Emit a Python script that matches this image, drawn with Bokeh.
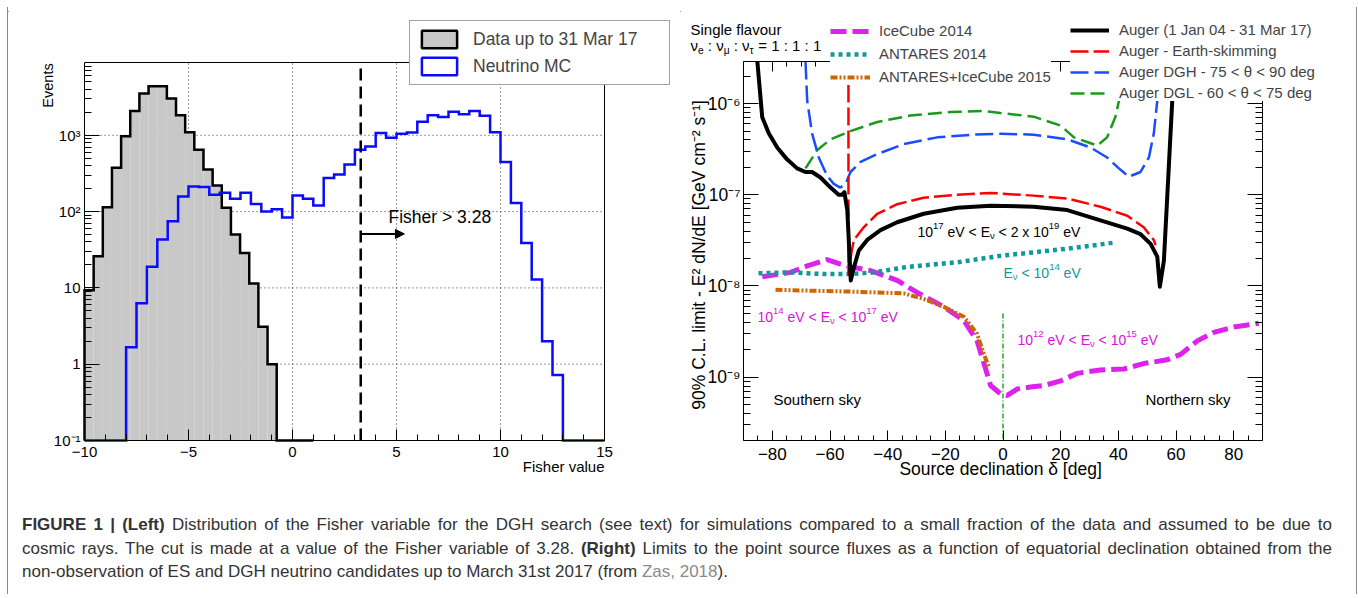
import numpy as np
from bokeh.plotting import figure
from bokeh.models import (Label, Legend, LegendItem, LinearAxis, LogAxis, FixedTicker,
                          CustomJSTickFormatter, Arrow, NormalHead, Div, Spacer)
from bokeh.layouts import row, column
from bokeh.embed import file_html
from bokeh.resources import INLINE

FONT = "Liberation Sans"

# ---------------- left panel data (Fisher distribution) ----------------
DATA_EDGE0 = -10.0
DATA_BINW = 0.44
DATA_COUNTS = [9.3, 26, 114, 376, 970, 2090, 3530, 4400, 4400, 3040, 1830, 1100, 647,
               357, 220, 112, 50, 28.6, 11.4, 3.1, 1.0, 0, 0, 0, 0]
MC_EDGE0 = -10.0
MC_BINW = 0.5
MC_COUNTS = [0, 0, 0, 0, 1.67, 6.3, 19, 43, 75, 158, 213, 210, 166, 176, 147, 176, 126,
             100, 107, 84, 162, 147, 120, 275, 307, 415, 647, 716, 1070, 930, 1050, 1090,
             1500, 1830, 1740, 2030, 1890, 2090, 1810, 1100, 446, 130, 38.7, 12.9, 2.0,
             0.72, 0, 0, 0, 0]
FISHER_CUT = 3.28
ARROW_LEN = 2.1
ARROW_Y = 51
LEFT_X_RANGE = (-10, 15)
LEFT_Y_RANGE = (0.1, 9000)
LEFT_XTICKS = [-10, -5, 0, 5, 10, 15]
LEFT_YTICKS = [0.1, 1, 10, 100, 1000]

# ---------------- right panel data (flux limits vs declination) ----------------
AUGER_X = [-85.2, -83.5, -81.2, -78.3, -74.9, -71.4, -68.5, -66.2, -63.3, -59.8, -57.0, -55.8,
           -55.0, -54.0, -52.8, -51.7, -50.0, -47.1, -42.5, -36.7, -27.5, -15.9, -4.3, 10.6,
           22.3, 33.8, 43.1, 47.7, 51.2, 53.5, 54.4, 55.8, 56.9, 58.1, 58.7, 59.1]
AUGER_Y = [2.9e-6, 7.1e-7, 4.7e-7, 3.3e-7, 2.45e-7, 1.95e-7, 1.78e-7, 1.78e-7, 1.55e-7, 1.2e-7,
           1.0e-7, 1.0e-7, 1.07e-7, 6.8e-8, 1.15e-8, 1.6e-8, 2.45e-8, 3.2e-8, 4.1e-8, 5.0e-8,
           6.2e-8, 7.2e-8, 7.6e-8, 7.4e-8, 6.8e-8, 5.25e-8, 4.25e-8, 3.7e-8, 2.9e-8, 2.1e-8,
           9.8e-9, 1.9e-8, 8.7e-8, 4.7e-7, 1.07e-6, 2.9e-6]
ES_X = [-53.6, -53.6, -52.6, -51.7, -48.3, -43.6, -36.7, -27.5, -15.9, -4.3, 10.6, 22.3,
        33.8, 43.1, 48.8, 52.3, 52.9]
ES_Y = [2.9e-6, 1.3e-8, 2.3e-8, 3.2e-8, 4.4e-8, 6.2e-8, 7.9e-8, 9.3e-8, 1.0e-7, 1.05e-7,
        9.8e-8, 9.1e-8, 7.4e-8, 5.9e-8, 4.4e-8, 3.2e-8, 2.8e-8]
DGH_X = [-68.5, -67.9, -66.2, -63.9, -61.0, -58.7, -56.4, -54.6, -52.9, -49.4, -43.6, -34.4,
         -22.8, -10.1, -0.9, 10.6, 22.3, 30.4, 36.1, 40.2, 43.6, 47.7, 50.6, 52.3, 53.5, 54.2]
DGH_Y = [2.9e-6, 1.07e-6, 4.7e-7, 2.57e-7, 1.62e-7, 1.32e-7, 1.2e-7, 1.32e-7, 1.78e-7, 2.3e-7,
         2.8e-7, 3.6e-7, 4.27e-7, 4.57e-7, 4.68e-7, 4.57e-7, 4.07e-7, 3.3e-7, 2.57e-7, 1.95e-7,
         1.58e-7, 1.78e-7, 2.57e-7, 4.7e-7, 1.07e-6, 2.9e-6]
DGL_X = [-68.5, -64.4, -59.8, -52.9, -43.6, -32.1, -18.2, -6.7, -0.9, 10.6, 20.0, 24.6, 29.2,
         32.7, 36.1, 39.0, 40.2, 40.8]
DGL_Y = [1.95e-7, 3.1e-7, 4.07e-7, 5.0e-7, 6.3e-7, 7.4e-7, 8.1e-7, 8.3e-7, 7.9e-7, 7.2e-7,
         5.75e-7, 4.27e-7, 3.8e-7, 3.47e-7, 4.27e-7, 7.2e-7, 1.07e-6, 2.9e-6]
ANT_X = [-84.8, -73.7, -62.2, -54.0, -44.8, -33.2, -15.9, -0.9, 10.6, 22.3, 39.0]
ANT_Y = [1.38e-8, 1.41e-8, 1.35e-8, 1.35e-8, 1.41e-8, 1.62e-8, 1.82e-8, 2.14e-8, 2.34e-8,
         2.57e-8, 3.0e-8]
IC_X = [-83.5, -73.7, -67.9, -61.0, -56.4, -52.9, -46.0, -36.7, -29.8, -20.5, -13.6, -9.0,
        -6.6, -4.3, -0.9, 1.5, 4.9, 9.5, 14.2, 20.0, 25.7, 33.8, 41.9, 48.8, 56.9, 61.6, 67.4,
        73.1, 80.1, 88.7]
IC_Y = [1.26e-8, 1.41e-8, 1.66e-8, 1.95e-8, 1.74e-8, 1.62e-8, 1.48e-8, 1.15e-8, 8.5e-9, 5.9e-9,
        4.2e-9, 2.5e-9, 1.41e-9, 8.1e-10, 6.6e-10, 6.3e-10, 7.4e-10, 7.8e-10, 8.1e-10, 9.1e-10,
        1.1e-9, 1.2e-9, 1.23e-9, 1.41e-9, 1.55e-9, 1.78e-9, 2.5e-9, 3.1e-9, 3.55e-9, 3.9e-9]
AI_X = [-78.9, -67.9, -54.0, -43.6, -34.4, -27.5, -20.5, -13.6, -9.0, -6.6, -4.9]
AI_Y = [9.1e-9, 8.9e-9, 8.7e-9, 8.5e-9, 8.3e-9, 7.2e-9, 5.9e-9, 4.6e-9, 3.0e-9, 1.78e-9, 1.29e-9]
HORIZON_DEC = 0.0
HORIZON_TOP = 5.0e-9
RIGHT_X_RANGE = (-90, 90)
RIGHT_Y_RANGE = (2.02e-10, 2.9e-6)
RIGHT_XTICKS = [-80, -60, -40, -20, 0, 20, 40, 60, 80]
RIGHT_YTICKS = [1e-9, 1e-8, 1e-7, 1e-6]

CAPTION_1 = ("<b>FIGURE 1 | (Left)</b> Distribution of the Fisher variable for the DGH search (see text) "
             "for simulations compared to a small fraction of the data and assumed to be due to")
CAPTION_2 = ("cosmic rays. The cut is made at a value of the Fisher variable of 3.28. <b>(Right)</b> "
             "Limits to the point source fluxes as a function of equatorial declination obtained from the")
CAPTION_3 = ("non-observation of ES and DGH neutrino candidates up to March 31st 2017 (from "
             "<span style='color:#8a8a8a'>Zas, 2018</span>).")

# ---------------- layout (page pixels) ----------------
PAD = 8                      # min border of every figure
FIG_TOP, FIG_H = 7, 482
LFIG_X, LFIG_W = 8, 672
RFIG_X, RFIG_W = 680, 676
L_PX, L_PY = (84, 604), (440, 62)     # plot box of left panel
R_PX, R_PY = (743, 1262), (440, 61)   # plot box of right panel
BORDER = "#8a8a8a"

SUP = {"-": "\u207b", "0": "\u2070", "1": "\u00b9", "2": "\u00b2", "3": "\u00b3", "4": "\u2074",
       "5": "\u2075", "6": "\u2076", "7": "\u2077", "8": "\u2078", "9": "\u2079"}
EMPTY_FMT = CustomJSTickFormatter(code="return '';")


def fmt_lin(t):
    return ("\u2212" if t < 0 else "") + str(abs(int(t)))


def fmt_log(t):
    e = int(round(np.log10(t)))
    if e == 0:
        return "1"
    if e == 1:
        return "10"
    return "10" + "".join(SUP[c] for c in str(e))


def log_minors(lo, hi):
    out = []
    for e in range(-12, 6):
        for m in range(2, 10):
            v = m * 10.0 ** e
            if lo < v < hi:
                out.append(v)
    return out


def ext(v0, v1, p0, p1, f0, f1):
    k = (v1 - v0) / (p1 - p0)
    return (v0 + (f0 - p0) * k, v0 + (f1 - p0) * k)


class Geo:
    """pixel <-> data mapping of one figure whose frame spans the figure minus PAD."""

    def __init__(self, xr, yr, px, py, fx, fw):
        self.fl, self.fr = fx + PAD, fx + fw - PAD
        self.ft, self.fb = FIG_TOP + PAD, FIG_TOP + FIG_H - PAD
        self.xe = ext(xr[0], xr[1], px[0], px[1], self.fl, self.fr)
        lo, hi = ext(np.log10(yr[0]), np.log10(yr[1]), py[0], py[1], self.fb, self.ft)
        self.ye = (10 ** lo, 10 ** hi)


W = {' ': 278, '0': 556, '1': 556, '2': 556, '3': 556, '4': 556, '5': 556, '6': 556, '7': 556,
     '8': 556, '9': 556, 'e': 556, 'V': 667, 'E': 667, '<': 584, 'x': 500, ':': 278, '=': 584,
     '\u03bd': 500, '\u03bc': 576, '\u03c4': 450}


def tw(s, size):
    return sum(W.get(c, 556) for c in s) * size / 1000.0


def lab(fig, g, ax, ay, text, size, color="black", align="left", angle=0.0):
    fig.add_layout(Label(x=ax - g.fl, y=g.fb - ay, x_units="screen", y_units="screen", text=text,
                         text_font=FONT, text_font_size=f"{size}px", text_color=color,
                         text_align=align, text_baseline="middle", angle=angle))


def dlab(fig, x, y, text, size, align, xo=0, yo=0):
    fig.add_layout(Label(x=x, y=y, x_offset=xo, y_offset=yo, text=text, text_font=FONT,
                         text_font_size=f"{size}px", text_color="black", text_align=align,
                         text_baseline="middle"))


def rich(fig, g, x0, yc, segs, size, color):
    x = x0
    small = size * 0.68
    for txt, kind in segs:
        s = size if kind == "n" else small
        lead = len(txt) - len(txt.lstrip(" "))
        core = txt.strip(" ")
        if core:
            dy = {"n": 0.0, "sup": -0.40 * size, "sub": 0.30 * size}[kind]
            lab(fig, g, x + lead * 0.278 * s, yc + dy, core, round(s, 1), color)
        x += tw(txt, s)


def stair(edge0, binw, counts, floor):
    xs, ys = [edge0], [floor]
    for i, c in enumerate(counts):
        v = c if c > 0 else floor
        xs += [edge0 + i * binw, edge0 + (i + 1) * binw]
        ys += [v, v]
    xs.append(edge0 + len(counts) * binw)
    ys.append(floor)
    return xs, ys


def bins(edge0, binw, counts):
    idx = [i for i, c in enumerate(counts) if c > 0]
    return ([edge0 + i * binw for i in idx], [edge0 + (i + 1) * binw for i in idx],
            [counts[i] for i in idx])


def frame_axis(ax, loc, bounds, ticks, minors, maj, mn):
    ax.fixed_location = loc
    ax.bounds = bounds
    ax.ticker = FixedTicker(ticks=ticks, minor_ticks=minors)
    ax.formatter = EMPTY_FMT
    ax.major_label_text_font_size = "1px"
    ax.major_label_standoff = 0
    ax.major_tick_in = maj
    ax.major_tick_out = 0
    ax.minor_tick_in = mn
    ax.minor_tick_out = 0
    ax.axis_line_color = "black"
    ax.axis_line_width = 1
    ax.major_tick_line_color = "black"
    ax.minor_tick_line_color = "black"


def base_fig(g, w):
    f = figure(width=w, height=FIG_H, x_range=g.xe, y_range=g.ye, y_axis_type="log",
               output_backend="svg", toolbar_location=None, min_border_left=PAD,
               min_border_right=PAD, min_border_top=PAD, min_border_bottom=PAD)
    f.outline_line_color = None
    f.background_fill_color = "white"
    f.border_fill_color = "white"
    f.grid.visible = False
    return f


# ---------------- left figure ----------------
gL = Geo(LEFT_X_RANGE, LEFT_Y_RANGE, L_PX, L_PY, LFIG_X, LFIG_W)
left = base_fig(gL, LFIG_W)
xr, yr = LEFT_X_RANGE, LEFT_Y_RANGE
frame_axis(left.xaxis[0], yr[0], xr, LEFT_XTICKS, list(range(-10, 16)), 11, 6)
frame_axis(left.yaxis[0], xr[0], yr, LEFT_YTICKS, log_minors(*yr), 15, 7)
a_top = LinearAxis()
frame_axis(a_top, yr[1], xr, [], [], 0, 0)
left.add_layout(a_top, "above")
a_rt = LogAxis()
frame_axis(a_rt, xr[1], yr, [], [], 0, 0)
left.add_layout(a_rt, "right")

floor = yr[0]
dl, dr, dt = bins(DATA_EDGE0, DATA_BINW, DATA_COUNTS)
ml, mr, mt = bins(MC_EDGE0, MC_BINW, MC_COUNTS)
# legend-only renderers (muted -> invisible in the plot, styled swatch in the legend)
r_data = left.quad(left=dl, right=dr, bottom=[floor] * len(dl), top=dt, fill_color="#c8c8c8",
                   line_color="black", line_width=2.5, muted_alpha=0)
r_data.muted = True
r_mc = left.quad(left=ml, right=mr, bottom=[floor] * len(ml), top=mt, fill_color="white",
                 line_color="#0a0aff", line_width=2.5, muted_alpha=0)
r_mc.muted = True

# dotted grid at the major ticks
gx = LEFT_XTICKS[1:-1]
left.segment(x0=gx, x1=gx, y0=[yr[0]] * len(gx), y1=[yr[1]] * len(gx),
             line_color="#333333", line_dash="1 3", line_width=1)
gy = LEFT_YTICKS[1:]
left.segment(x0=[xr[0]] * len(gy), x1=[xr[1]] * len(gy), y0=gy, y1=gy,
             line_color="#333333", line_dash="1 3", line_width=1)

left.quad(left=dl, right=dr, bottom=[floor] * len(dl), top=dt, fill_color="#c8c8c8",
          line_color=None)
dx, dy = stair(DATA_EDGE0, DATA_BINW, DATA_COUNTS, floor)
left.line(dx, dy, line_color="black", line_width=2.5, line_join="miter")
mx, my = stair(MC_EDGE0, MC_BINW, MC_COUNTS, floor)
left.line(mx, my, line_color="#0a0aff", line_width=2.5, line_join="miter")

left.line([FISHER_CUT, FISHER_CUT], [yr[0], yr[1]], line_color="black", line_width=2.5,
          line_dash="12 6")
left.add_layout(Arrow(end=NormalHead(size=9, fill_color="black", line_color="black"),
                      x_start=FISHER_CUT, y_start=ARROW_Y, x_end=FISHER_CUT + ARROW_LEN,
                      y_end=ARROW_Y, line_width=2, line_color="black"))

for t in LEFT_XTICKS:
    dlab(left, t, yr[0], fmt_lin(t), 15, "center", yo=-11)
for t in LEFT_YTICKS:
    dlab(left, xr[0], t, fmt_log(t), 15, "right", xo=-4)

lab(left, gL, 388, 216, "Fisher > 3.28", 17.5)
lab(left, gL, 47, 85, "Events", 14.5, align="center", angle=np.pi / 2)
lab(left, gL, 604, 466, "Fisher value", 15, align="right")

leg_l = Legend(items=[LegendItem(label="Data up to 31 Mar 17", renderers=[r_data]),
                      LegendItem(label="Neutrino MC", renderers=[r_mc])],
               location=(409 - gL.fl, gL.fb - 85), padding=7, spacing=5, margin=0,
               glyph_width=44, glyph_height=22, label_height=22, label_width=189,
               label_standoff=12, border_line_color="#444444", border_line_width=1,
               background_fill_color="white", background_fill_alpha=1.0,
               label_text_font=FONT, label_text_font_size="17.5px")
left.add_layout(leg_l)

# ---------------- right figure ----------------
gR = Geo(RIGHT_X_RANGE, RIGHT_Y_RANGE, R_PX, R_PY, RFIG_X, RFIG_W)
right = base_fig(gR, RFIG_W)
xr, yr = RIGHT_X_RANGE, RIGHT_Y_RANGE
xmin = list(range(-90, 91, 5))
ymin = log_minors(*yr)
frame_axis(right.xaxis[0], yr[0], xr, RIGHT_XTICKS, xmin, 10, 5)
frame_axis(right.yaxis[0], xr[0], yr, RIGHT_YTICKS, ymin, 15, 7)
b_top = LinearAxis()
frame_axis(b_top, yr[1], xr, RIGHT_XTICKS, xmin, 10, 5)
right.add_layout(b_top, "above")
b_rt = LogAxis()
frame_axis(b_rt, xr[1], yr, RIGHT_YTICKS, ymin, 15, 7)
right.add_layout(b_rt, "right")

r_ic = right.line(IC_X, IC_Y, line_color="#dd22ee", line_width=5, line_dash="16 6")
r_ant = right.line(ANT_X, ANT_Y, line_color="#0f9a9a", line_width=4.5, line_dash="4 4")
r_ai = right.line(AI_X, AI_Y, line_color="#cc6600", line_width=4, line_dash="7 2 2 2 2 2")
right.line([HORIZON_DEC, HORIZON_DEC], [HORIZON_TOP, yr[0]], line_color="#22aa22",
           line_width=1.5, line_dash="5 2 1 2")
r_dgl = right.line(DGL_X, DGL_Y, line_color="#199a19", line_width=2.5, line_dash="14 6")
r_dgh = right.line(DGH_X, DGH_Y, line_color="#1a4dff", line_width=2.5, line_dash="18 6")
r_es = right.line(ES_X, ES_Y, line_color="#ff0000", line_width=2.5, line_dash="18 5")
r_aug = right.line(AUGER_X, AUGER_Y, line_color="black", line_width=4, line_join="round")

for t in RIGHT_XTICKS:
    dlab(right, t, yr[0], fmt_lin(t), 17, "center", yo=-13)
for t in RIGHT_YTICKS:
    dlab(right, xr[0], t, fmt_log(t), 17.5, "right", xo=-3)

leg1 = Legend(items=[LegendItem(label="IceCube 2014", renderers=[r_ic]),
                     LegendItem(label="ANTARES 2014", renderers=[r_ant]),
                     LegendItem(label="ANTARES+IceCube 2015", renderers=[r_ai])],
              location=(830 - gR.fl, gR.fb - 85), padding=4, spacing=6, margin=0,
              glyph_width=40, glyph_height=16, label_height=16, label_standoff=9,
              border_line_color=None, background_fill_color="white", background_fill_alpha=1.0,
              label_text_font=FONT, label_text_font_size="15px")
right.add_layout(leg1)
leg2 = Legend(items=[LegendItem(label="Auger (1 Jan 04 - 31 Mar 17)", renderers=[r_aug]),
                     LegendItem(label="Auger - Earth-skimming", renderers=[r_es]),
                     LegendItem(label="Auger DGH - 75 < \u03b8 < 90 deg", renderers=[r_dgh]),
                     LegendItem(label="Auger DGL - 60 < \u03b8 < 75 deg", renderers=[r_dgl])],
              location=(1070 - gR.fl, gR.fb - 101), padding=6, spacing=4, margin=0,
              glyph_width=39, glyph_height=16, label_height=16, label_standoff=10,
              border_line_color=None, background_fill_color="white", background_fill_alpha=1.0,
              label_text_font=FONT, label_text_font_size="15px")
right.add_layout(leg2)

lab(right, gR, 690, 29, "Single flavour", 15)
rich(right, gR, 690, 45,
     [("\u03bd", "n"), ("e", "sub"), (" : \u03bd", "n"), ("\u03bc", "sub"), (" : \u03bd", "n"),
      ("\u03c4", "sub"), (" = 1 : 1 : 1", "n")], 15, "black")
rich(right, gR, 917, 231,
     [("10", "n"), ("17", "sup"), (" eV < E", "n"), ("\u03bd", "sub"), (" < 2 x 10", "n"),
      ("19", "sup"), (" eV", "n")], 14, "black")
rich(right, gR, 1003, 272,
     [("E", "n"), ("\u03bd", "sub"), (" < 10", "n"), ("14", "sup"), (" eV", "n")], 14, "#0f9a9a")
rich(right, gR, 757, 316,
     [("10", "n"), ("14", "sup"), (" eV < E", "n"), ("\u03bd", "sub"), (" < 10", "n"),
      ("17", "sup"), (" eV", "n")], 14, "#dd11dd")
rich(right, gR, 1017, 339,
     [("10", "n"), ("12", "sup"), (" eV < E", "n"), ("\u03bd", "sub"), (" < 10", "n"),
      ("15", "sup"), (" eV", "n")], 14, "#dd11dd")
lab(right, gR, 773, 399, "Southern sky", 15)
lab(right, gR, 1145, 399, "Northern sky", 15)
lab(right, gR, 1002.5, 468, "Source declination \u03b4  [deg]", 17.5, align="center")
lab(right, gR, 698, 252,
    "90% C.L. limit - E\u00b2 dN/dE  [GeV cm\u207b\u00b2 s\u207b\u00b9]", 17.5,
    align="center", angle=np.pi / 2)

# ---------------- outer grey frame + caption ----------------
FRAME_X = LFIG_X - 1                 # page x of the frame's left line
FRAME_W = RFIG_X + RFIG_W + 1 - FRAME_X
CAP_H = 105


def frame_div(w, h, side, inner_left=0):
    html = (f"<div style='box-sizing:border-box;margin-left:{inner_left}px;"
            f"width:{w - inner_left}px;height:{h}px;border-{side}:1px solid {BORDER};'></div>")
    return Div(text=html, width=w, height=h, margin=0)


top_line = frame_div(FRAME_X + FRAME_W, FIG_TOP, "bottom", inner_left=FRAME_X)
left_line = frame_div(LFIG_X, FIG_H, "right")
right_line = frame_div(2, FIG_H, "left")

cap_html = (
    f"<div style=\"box-sizing:border-box;width:{FRAME_W}px;height:{CAP_H}px;"
    f"border-left:1px solid {BORDER};border-right:1px solid {BORDER};"
    "padding:24px 24px 0 14px;font-family:'Liberation Sans',Arial,sans-serif;font-size:17px;"
    "line-height:23.5px;color:#333333;\">"
    f"<div style='text-align:justify;text-align-last:justify;'>{CAPTION_1}</div>"
    f"<div style='text-align:justify;text-align-last:justify;'>{CAPTION_2}</div>"
    f"<div>{CAPTION_3}</div></div>")
caption = Div(text=cap_html, width=FRAME_W, height=CAP_H, margin=0)

page = column(
    top_line,
    row(left_line, left, right, right_line),
    row(Spacer(width=FRAME_X, height=CAP_H, margin=0), caption),
)

open("out.html", "w").write(file_html(page, INLINE))
